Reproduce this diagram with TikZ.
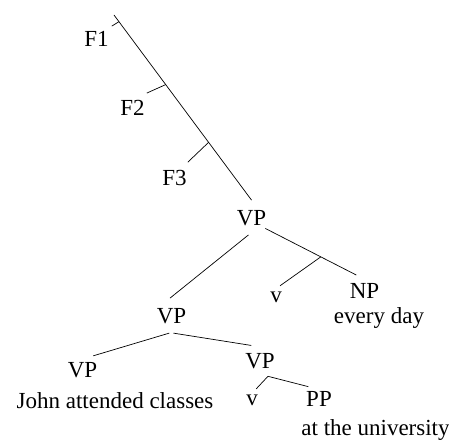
\documentclass[tikz,border=0pt]{standalone}
\usepackage{fontspec}
\setmainfont{Liberation Serif}
\begin{document}
\begin{tikzpicture}[x=1pt,y=1pt,line width=0.7pt,font=\fontsize{23}{27}\selectfont,
  cat/.style={circle,inner sep=0.5pt,anchor=base},
  fcat/.style={circle,inner sep=4pt,anchor=base},
  lex/.style={circle,inner sep=2.5pt,anchor=base},
  words/.style={inner sep=0pt,anchor=base}]
\useasboundingbox (0,0) rectangle (449,-441);
\node [fcat] (f1) at (96.5,-47) {F1};
\node [fcat] (f2) at (132.5,-115) {F2};
\node [fcat] (f3) at (174.5,-185) {F3};
\node [cat] (vp1) at (251.5,-225) {VP};
\node [lex] (v1) at (276,-302) {v};
\node [cat] (np) at (364.5,-298) {NP};
\node [words] (npw) at (379,-323) {every day};
\node [cat] (vp2) at (171.5,-323) {VP};
\node [cat] (vp3) at (82.5,-377) {VP};
\node [words] (vp3w) at (115,-408) {John attended classes};
\node [cat] (vp4) at (260,-368) {VP};
\node [lex] (v2) at (252,-405) {v};
\node [cat] (pp) at (319,-406) {PP};
\node [words] (ppw) at (375.5,-435) {at the university};
\coordinate (top) at (114,-15);
\coordinate (vpfork) at (vp4.-63);
\draw (top) -- coordinate[pos=0.036] (j1) coordinate[pos=0.376] (j2)
  coordinate[pos=0.688] (j3) (vp1.north);
\draw (j1) -- (f1.41);
\draw (j2) -- (f2.45);
\draw (j3) -- (f3.49);
\draw (vp1.-100) -- (vp2.95);
\draw (vp1.-38) -- coordinate[pos=0.61] (j4) (np.118);
\draw (j4) -- (v1.70);
\draw (vp2.-97) -- (vp3.52);
\draw (vp2.-84) -- (vp4.120);
\draw (vpfork) -- (v2.69);
\draw (vpfork) -- (pp.132);
\end{tikzpicture}
\end{document}
